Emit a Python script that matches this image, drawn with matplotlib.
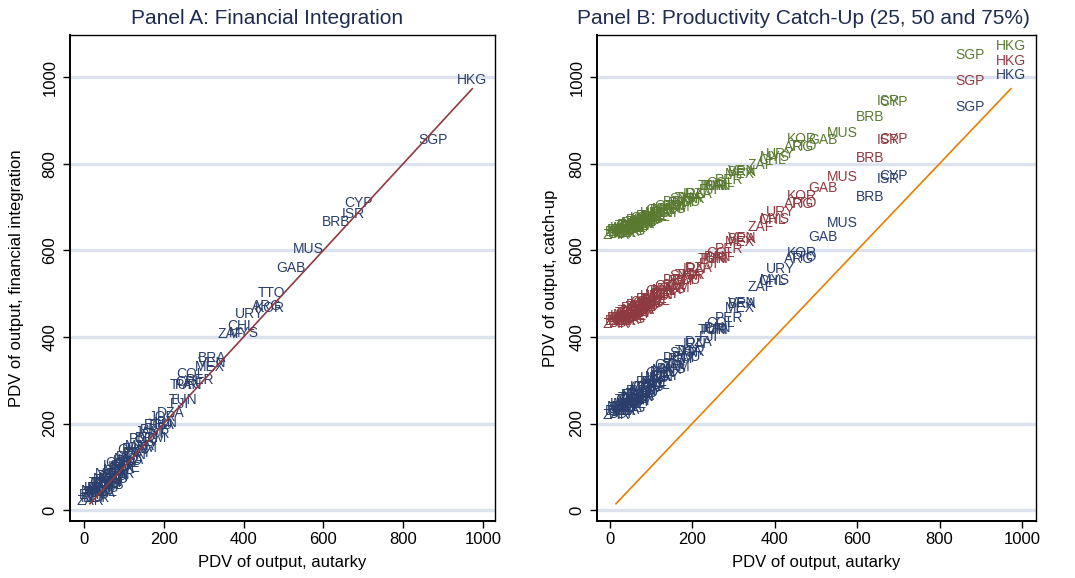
import matplotlib
matplotlib.use('Agg')
import matplotlib.pyplot as plt
import numpy as np

countries = ["ZAR","ETH","BDI","MWI","NER","TCD","MLI","UGA","RWA","BFA","TZA","MOZ","MDG","GNB","CAF",
             "TGO","NPL","GMB","BEN","KEN","NGA","HTI","ZMB","GHA","BGD","GIN","SEN","LSO","MRT","CMR",
             "IND","COG","PAK","CIV","ZWE","NIC","HND","BOL","LKA","CHN","IDN","PHL","EGY","MAR","GTM",
             "PNG","SLV","JAM","DOM","PRY","SYR","ECU","THA","JOR","IRN","DZA","FJI","TUN","TUR","CRI",
             "PAN","COL","PER","BRA","MEX","VEN","ZAF","CHL","MYS","URY","ARG","TTO","KOR","GAB","MUS",
             "BRB","ISR","CYP","SGP","HKG"]
autarky = [15,22,25,28,30,33,35,38,40,42,44,46,48,50,52,
           55,57,60,62,64,66,68,70,72,75,78,80,82,85,88,
           90,93,96,100,103,106,110,114,118,122,126,130,135,140,145,
           150,156,162,168,175,180,186,192,198,205,217,240,248,252,258,
           262,268,290,320,316,322,367,394,400,415,459,470,466,518,563,
           632,676,688,874,973]
fin_integration = [22,34,27,44,28,43,41,52,40,51,62,42,52,63,51,
                   61,72,57,70,65,83,63,80,77,73,90,82,101,92,84,
                   100,108,96,106,97,119,114,123,116,138,127,141,131,147,144,
                   164,158,180,166,184,175,197,196,214,202,224,245,255,290,295,
                   288,314,300,352,330,340,406,425,408,452,471,501,466,559,603,
                   665,684,709,855,993]
catchup25 = [219,229,222,238,228,237,228,245,238,232,254,246,235,254,245,
             260,245,256,267,253,264,250,269,264,276,262,274,285,272,285,
             271,284,295,282,295,291,304,290,307,317,307,319,310,323,334,
             325,337,330,351,348,364,353,368,366,383,388,400,416,417,419,
             420,431,444,475,467,478,515,528,531,557,580,584,594,630,663,
             723,764,771,931,1005]
catchup50 = [429,437,431,444,436,443,436,449,444,438,456,450,441,456,449,
             460,449,457,466,455,463,453,468,463,473,462,472,480,469,480,
             468,479,487,477,488,484,495,483,497,505,496,506,499,509,518,
             510,520,514,531,528,541,532,544,542,556,560,569,581,581,583,
             584,593,602,626,620,629,654,670,672,688,707,709,725,744,769,
             813,855,857,991,1037]
catchup75 = [636,642,637,647,641,647,641,651,647,643,656,651,645,656,651,
             659,651,657,664,655,661,653,665,661,669,660,667,674,666,674,
             665,673,679,671,679,677,685,676,686,692,685,693,687,695,702,
             696,703,699,711,709,719,712,721,719,729,730,739,748,748,749,
             749,756,763,780,777,782,797,808,815,822,838,840,857,855,871,
             908,945,943,1051,1072]
ticks = [0, 200, 400, 600, 800, 1000]

NAVY = '#2a3f6c'
MAROON = '#8e3a40'
GREEN = '#5a7a32'
ORANGE = '#e58000'
GRID = '#dce2ee'
TITLE = '#1e2d4f'

plt.rcParams['font.family'] = ['Liberation Sans', 'DejaVu Sans']

fig = plt.figure(figsize=(10.75, 5.78), dpi=100)
axA = fig.add_axes([70/1075, 1-521/578, 425/1075, 486/578])
axB = fig.add_axes([597/1075, 1-521/578, 439/1075, 486/578])

order = np.argsort(autarky)
a_sorted = np.array(autarky)[order]

def style(ax, xlim, ylabel, ypad):
    ax.set_xlim(*xlim)
    ax.set_ylim(-25, 1097)
    ax.set_xticks(ticks)
    ax.set_yticks(ticks)
    ax.set_yticklabels([str(t) for t in ticks], rotation=90, va='center')
    ax.tick_params(axis='both', labelsize=12, length=5, width=1, direction='out', pad=3)
    ax.tick_params(axis='y', pad=4)
    for t in ticks:
        ax.axhline(t, color=GRID, lw=2.4, zorder=0)
    for s in ax.spines.values():
        s.set_linewidth(1.0)
    ax.spines['left'].set_linewidth(1.4)
    ax.spines['bottom'].set_linewidth(1.4)
    ax.set_xlabel('PDV of output, autarky', fontsize=12, labelpad=6)
    ax.set_ylabel(ylabel, fontsize=12, labelpad=ypad)

style(axA, (-35, 1030), 'PDV of output, financial integration', 13)
for c, x, y in zip(countries, autarky, fin_integration):
    axA.text(x, y, c, color=NAVY, fontsize=10, ha='center', va='center', zorder=2)
axA.plot(a_sorted, a_sorted, color=MAROON, lw=1.2, zorder=3)

style(axB, (-31, 1034), 'PDV of output, catch-up', 8)
for series, col in [(catchup25, NAVY), (catchup50, MAROON), (catchup75, GREEN)]:
    for c, x, y in zip(countries, autarky, series):
        axB.text(x, y, c, color=col, fontsize=10, ha='center', va='center', zorder=2)
axB.plot(a_sorted, a_sorted, color=ORANGE, lw=1.2, zorder=3)

fig.text(267/1075, 1-19/578, 'Panel A: Financial Integration', fontsize=15,
         color=TITLE, ha='center', va='center')
fig.text(803/1075, 1-19/578, 'Panel B: Productivity Catch-Up (25, 50 and 75%)', fontsize=15,
         color=TITLE, ha='center', va='center')

fig.savefig('out.png', dpi=100, facecolor='white')
